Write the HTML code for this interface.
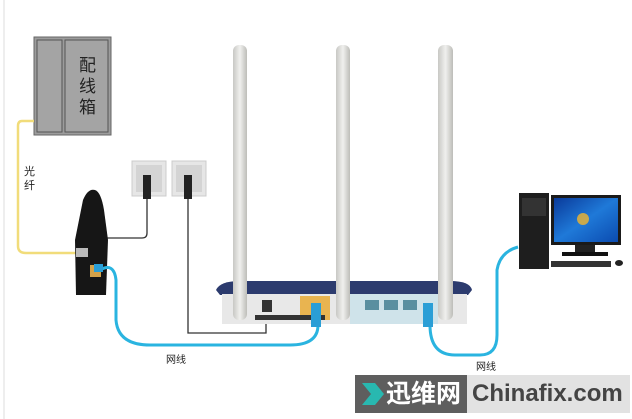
<!DOCTYPE html>
<html><head><meta charset="utf-8"><style>
body{margin:0;width:632px;height:419px;background:#fff;overflow:hidden;position:relative;font-family:"Liberation Sans","Noto Sans CJK SC",sans-serif}
.a{position:absolute}
</style></head><body>
<svg class="a" style="left:0;top:0" width="632" height="419">
<defs>
<linearGradient id="ant" x1="0" x2="1"><stop offset="0" stop-color="#c8c8c4"/><stop offset=".5" stop-color="#f0f0ee"/><stop offset="1" stop-color="#bdbdb8"/></linearGradient>
<linearGradient id="scr" x1="0" y1="0" x2="1" y2="1"><stop offset="0" stop-color="#0a3a9a"/><stop offset=".5" stop-color="#1f79d8"/><stop offset="1" stop-color="#0b4bb0"/></linearGradient>
</defs>
<line x1="4" y1="0" x2="4" y2="419" stroke="#ddd"/>
<rect x="34" y="37" width="77" height="98" fill="#9c9c9c" stroke="#666"/>
<rect x="37" y="40" width="25" height="92" fill="#a4a4a4" stroke="#555"/>
<rect x="65" y="40" width="43" height="92" fill="#a4a4a4" stroke="#555"/>
<path d="M34 121 H22 Q18 121 18 126 V246 Q18 253 26 253 H76" fill="none" stroke="#f1dc7a" stroke-width="2.5"/>
<rect x="132" y="161" width="34" height="35" fill="#e6e6e6" stroke="#ccc"/>
<rect x="136" y="165" width="26" height="27" fill="#d4d4d4"/>
<rect x="172" y="161" width="34" height="35" fill="#e6e6e6" stroke="#ccc"/>
<rect x="176" y="165" width="26" height="27" fill="#d4d4d4"/>
<rect x="143" y="175" width="8" height="24" fill="#222"/>
<rect x="184" y="175" width="8" height="24" fill="#222"/>
<path d="M147 199 V233 Q147 238 142 238 H106" fill="none" stroke="#333" stroke-width="1.3"/>
<path d="M188 199 V333 H266 V310" fill="none" stroke="#333" stroke-width="1.3"/>
<path d="M83 200 Q88 188 95 190 Q101 192 104 210 L108 240 L106 295 H76 L75 240 Z" fill="#161616"/>
<rect x="90" y="265" width="11" height="12" fill="#d4a24a"/>
<rect x="76" y="248" width="12" height="9" fill="#bbb"/>
<path d="M216 290 Q220 281 240 281 H450 Q470 281 472 290 L468 295 H220 Z" fill="#2c3b6e"/>
<rect x="222" y="294" width="245" height="30" fill="#e8e8e8"/>
<rect x="350" y="294" width="88" height="30" fill="#cfe3ea"/>
<rect x="300" y="296" width="30" height="24" fill="#e9b450"/>
<rect x="262" y="300" width="10" height="12" fill="#333"/>
<rect x="365" y="300" width="14" height="10" fill="#5a8fa0"/><rect x="384" y="300" width="14" height="10" fill="#5a8fa0"/><rect x="403" y="300" width="14" height="10" fill="#5a8fa0"/>
<rect x="255" y="315" width="70" height="5" fill="#333"/>
<rect x="233" y="45" width="14" height="275" rx="6" fill="url(#ant)"/>
<rect x="336" y="45" width="14" height="275" rx="6" fill="url(#ant)"/>
<rect x="438" y="45" width="15" height="275" rx="6" fill="url(#ant)"/>
<path d="M100 270 Q114 262 116 280 V320 Q118 345 150 345 H290 Q318 345 318 325" fill="none" stroke="#2ab4e0" stroke-width="3"/>
<path d="M430 325 Q430 355 455 355 H480 Q497 355 497 335 V270 Q500 252 518 247" fill="none" stroke="#2ab4e0" stroke-width="3"/>
<rect x="311" y="303" width="10" height="24" fill="#2a9ed6"/>
<rect x="423" y="303" width="10" height="24" fill="#2a9ed6"/>
<rect x="94" y="264" width="9" height="8" fill="#2a9ed6"/>
<rect x="519" y="193" width="30" height="76" fill="#1e1e1e"/>
<rect x="522" y="198" width="24" height="18" fill="#333"/>
<rect x="551" y="195" width="70" height="50" fill="#1a1a1a"/>
<rect x="554" y="198" width="64" height="44" fill="url(#scr)"/>
<circle cx="583" cy="219" r="6" fill="#f3b52c" opacity=".8"/>
<rect x="575" y="245" width="20" height="8" fill="#222"/>
<rect x="562" y="252" width="46" height="4" fill="#111"/>
<rect x="551" y="261" width="60" height="6" fill="#333"/>
<ellipse cx="619" cy="263" rx="4" ry="3" fill="#222"/>
<rect x="355" y="375" width="112" height="38" fill="#5e5e5e"/>
<rect x="467" y="375" width="163" height="38" fill="#e2e2e2"/>
<path d="M362 383 L375 383 L384 394 L375 405 L362 405 L371 394 Z" fill="#28b8b0"/>
</svg>
<div class="a" style="left:79px;top:55px;width:20px;font-size:17px;line-height:21px;color:#222">配<br>线<br>箱</div>
<div class="a" style="left:24px;top:165px;font-size:11px;line-height:14px;color:#222">光<br>纤</div>
<div class="a" style="left:166px;top:351px;font-size:10px;color:#222">网线</div>
<div class="a" style="left:476px;top:358px;font-size:10px;color:#222">网线</div>
<div class="a" style="left:386px;top:378px;font-size:25px;font-weight:bold;color:#fff;line-height:32px">迅维网</div>
<div class="a" style="left:472px;top:378px;font-size:24px;font-weight:bold;color:#444;line-height:32px">Chinafix.com</div>
</body></html>
